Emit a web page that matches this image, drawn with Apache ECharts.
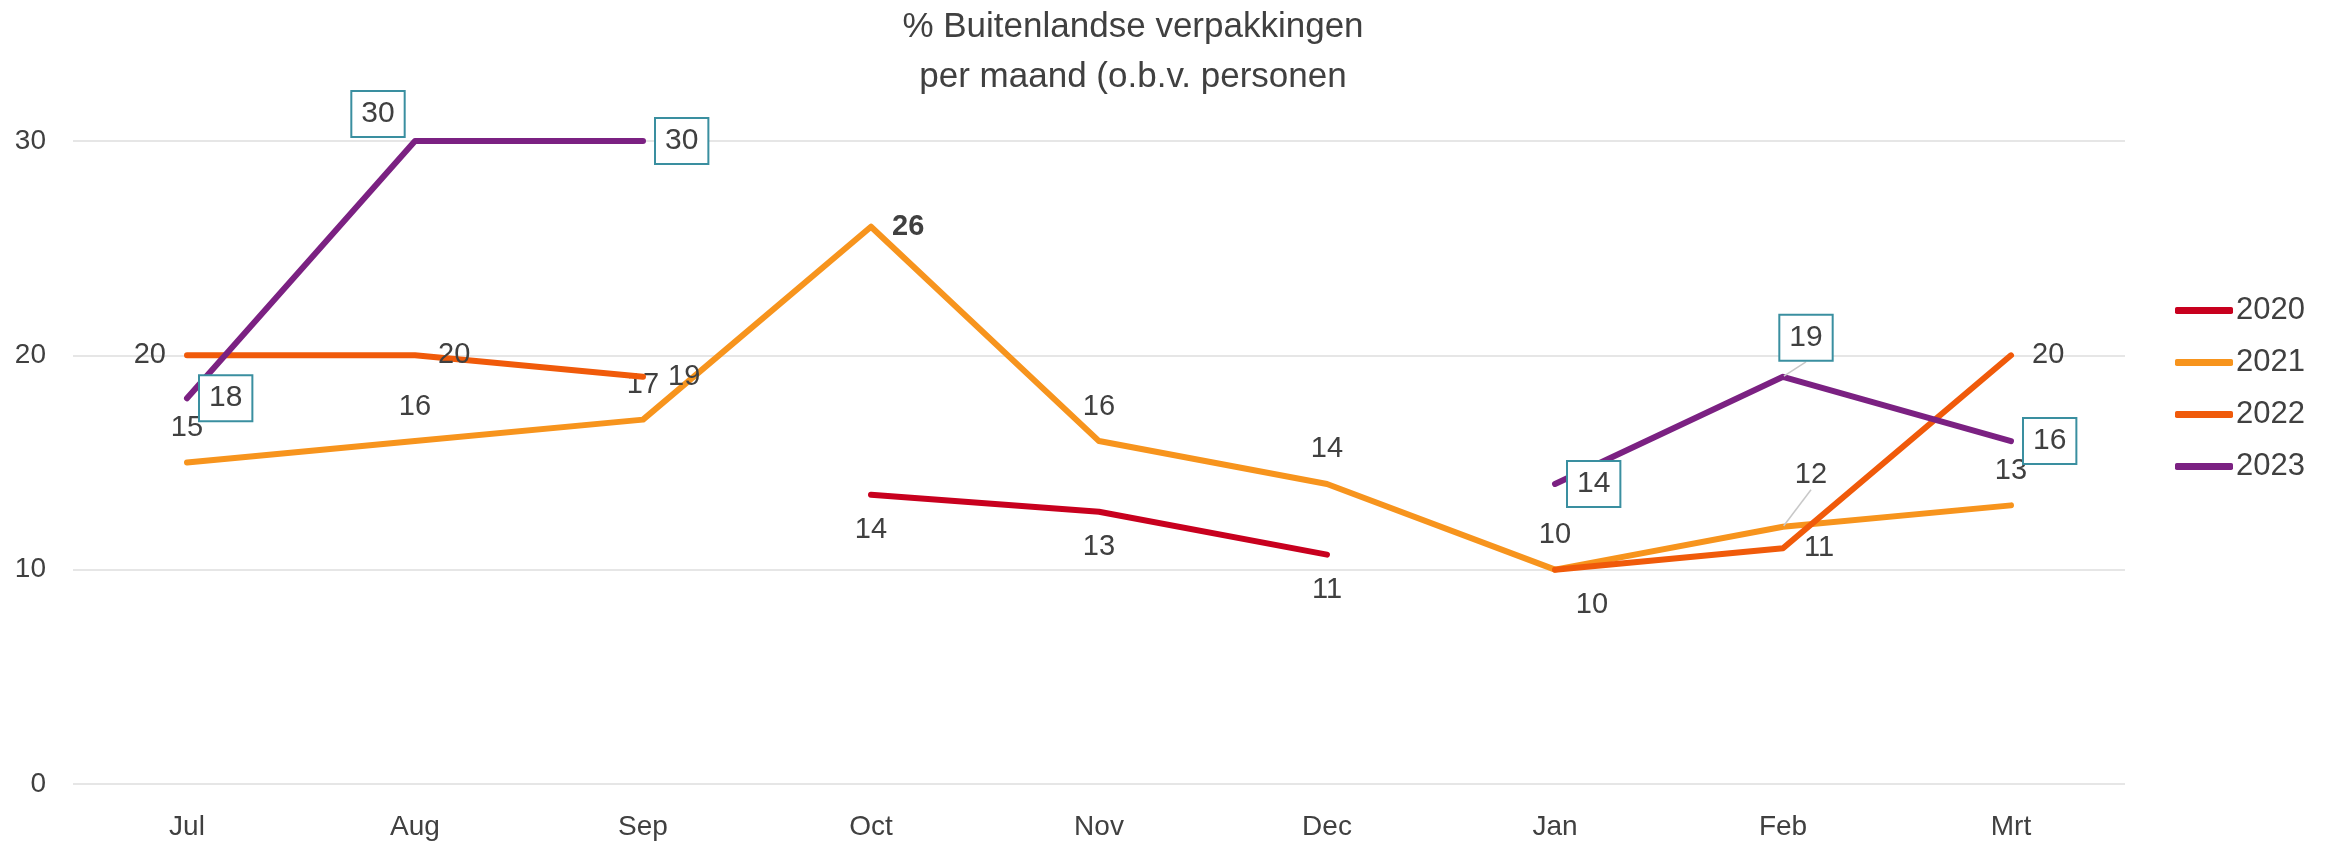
<!DOCTYPE html>
<html>
<head>
<meta charset="utf-8">
<script src="https://cdn.jsdelivr.net/npm/echarts@6/dist/echarts.min.js"></script>
<style>html,body{margin:0;padding:0;background:#fff;}#c{width:2333px;height:842px;}</style>
</head>
<body>
<div id="c"></div>
<script>
const categories = ['Jul','Aug','Sep','Oct','Nov','Dec','Jan','Feb','Mrt'];
const seriesNames = ['2020','2021','2022','2023'];
const values2020 = [null,null,null,13.5,12.7,10.7,null,null,null];
const values2021 = [15,16,17,26,16,14,10,12,13];
const values2022 = [20,20,19,null,null,null,10,11,20];
const values2023 = [18,30,30,null,null,null,14,19,16];
const yTicks = [0,10,20,30];

// label placement (style only)
const pos2020 = ['bottom','bottom','bottom','bottom','bottom','bottom','bottom','bottom','bottom'];
const pos2021 = ['top','top','top','right','top','top','top','top','top'];
const pos2022 = ['left','right','right','right','right','right','bottom','right','right'];
const pos2023 = ['right','top','right','right','right','right','right','top','right'];

const TXT = '#404040';
const colors = ['#C8001E','#F7941D','#F05A0A','#7B2182'];
const FONT = 'Liberation Sans, Arial, sans-serif';

function build(values, pos, extra, leader) {
  return values.map((v, i) => {
    const item = { value: v, label: { position: pos[i] } };
    if (extra && extra[i]) Object.assign(item.label, extra[i]);
    if (leader && leader[i]) item.labelLine = { show: true };
    return item;
  });
}

const extra2021 = { 3: { fontWeight: 'bold', distance: 20 } };
const extra2022 = { 0: { distance: 20 }, 1: { distance: 22 }, 2: { distance: 24 }, 6: { offset: [37, 0] } };
const extra2023 = { 1: { distance: 4 }, 7: { distance: 4 } };
const leaderIdx = { 7: true };

const roundFmt = p => (p.value == null ? '' : Math.round(p.value));

function baseSeries(name, idx, data, labelCfg) {
  return {
    name: name,
    type: 'line',
    data: data,
    symbol: 'circle',
    symbolSize: 2,
    showSymbol: true,
    connectNulls: false,
    z: 2 + idx,
    lineStyle: { width: 6, color: colors[idx], cap: 'round', join: 'round' },
    itemStyle: { color: colors[idx] },
    emphasis: { disabled: true },
    labelLine: { show: false, lineStyle: { color: '#C8C8C8', width: 1.5 } },
    label: Object.assign({
      show: true,
      formatter: roundFmt,
      color: TXT,
      fontSize: 29,
      lineHeight: 29,
      fontFamily: FONT
    }, labelCfg)
  };
}

const s2020 = baseSeries('2020', 0, build(values2020, pos2020), { distance: 20 });
const s2021 = baseSeries('2021', 1, build(values2021, pos2021, extra2021, leaderIdx), { distance: 19 });
s2021.labelLayout = function (p) {
  if (p.dataIndex === 7) return { dx: 28, dy: -17 };
  return {};
};
const s2022 = baseSeries('2022', 2, build(values2022, pos2022, extra2022), { distance: 20 });
const s2023 = baseSeries('2023', 3, build(values2023, pos2023, extra2023, leaderIdx), {
  distance: 12,
  fontSize: 30,
  lineHeight: 30,
  padding: [7, 9],
  borderColor: '#3A8FA0',
  borderWidth: 2,
  backgroundColor: '#fff'
});
s2023.labelLayout = function (p) {
  if (p.dataIndex === 7) return { dx: 23, dy: -12 };
  if (p.dataIndex === 1) return { dx: -37, dy: 0 };
  return {};
};

const chart = echarts.init(document.getElementById('c'));
chart.setOption({
  animation: false,
  backgroundColor: '#fff',
  textStyle: { fontFamily: FONT },
  title: {
    text: '% Buitenlandse verpakkingen\nper maand (o.b.v. personen',
    left: 1128,
    top: 0,
    padding: [2, 5],
    textAlign: 'center',
    textStyle: { color: TXT, fontSize: 35, lineHeight: 50, fontWeight: 'normal', fontFamily: FONT }
  },
  legend: {
    data: seriesNames,
    orient: 'vertical',
    left: 2170,
    top: 290,
    itemWidth: 58,
    itemHeight: 7,
    itemGap: 21,
    icon: 'roundRect',
    textStyle: { color: TXT, fontSize: 31, lineHeight: 30, padding: [0, 0, 0, -2] }
  },
  grid: { left: 73, right: 208, top: 141, bottom: 58, containLabel: false },
  xAxis: {
    type: 'category',
    data: categories,
    boundaryGap: true,
    axisLine: { show: false },
    axisTick: { show: false },
    axisLabel: { color: TXT, fontSize: 28, margin: 29 }
  },
  yAxis: {
    type: 'value',
    min: yTicks[0],
    max: yTicks[yTicks.length - 1],
    interval: yTicks[1] - yTicks[0],
    axisLine: { show: false },
    axisTick: { show: false },
    axisLabel: { color: TXT, fontSize: 28, margin: 27 },
    splitLine: { lineStyle: { color: '#E6E6E6', width: 2 } }
  },
  series: [s2020, s2021, s2022, s2023]
});
</script>
</body>
</html>
